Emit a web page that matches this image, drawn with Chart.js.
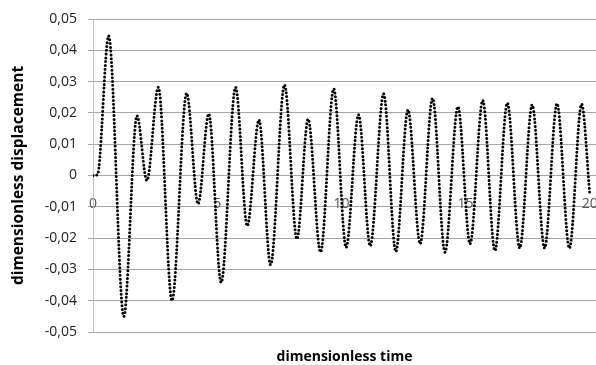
<!DOCTYPE html>
<html><head><meta charset="utf-8">
<script src="https://cdn.jsdelivr.net/npm/chart.js@4"></script>
<style>html,body{margin:0;padding:0;background:#fff}canvas{display:block}</style>
</head><body>
<canvas id="c" width="596" height="365"></canvas>
<script>
// extrema (time, displacement)
const times = [0, 0.18, 0.63, 1.24, 1.77, 2.17, 2.63, 3.18, 3.77, 4.23, 4.66, 5.16, 5.74, 6.21, 6.68, 7.15, 7.71, 8.21, 8.66, 9.16, 9.69, 10.19, 10.69, 11.16, 11.70, 12.19, 12.68, 13.17, 13.67, 14.17, 14.69, 15.18, 15.69, 16.18, 16.68, 17.18, 17.68, 18.18, 18.68, 19.18, 19.67, 20];
const displacement = [0, 0.0003, 0.0446, -0.045, 0.0191, -0.0016, 0.0282, -0.040, 0.0263, -0.0091, 0.0197, -0.0342, 0.0282, -0.0161, 0.0178, -0.0285, 0.029, -0.0203, 0.018, -0.0245, 0.0277, -0.023, 0.0194, -0.0225, 0.0261, -0.0243, 0.021, -0.0218, 0.0247, -0.0245, 0.022, -0.0218, 0.024, -0.024, 0.0232, -0.0232, 0.0226, -0.0232, 0.023, -0.0232, 0.0228, -0.006];
const xTicks = [0, 5, 10, 15, 20];
const yTicks = [-0.05, -0.04, -0.03, -0.02, -0.01, 0, 0.01, 0.02, 0.03, 0.04, 0.05];

const points = times.map((t, i) => ({x: t, y: displacement[i]}));
const fmtY = v => { const r = Math.round(v * 100) / 100; return r === 0 ? '0' : r.toFixed(2).replace('.', ','); };
const FONT = 'Open Sans';

new Chart(document.getElementById('c'), {
  type: 'line',
  data: {datasets: [{
    data: points,
    borderColor: '#000',
    borderWidth: 3,
    borderDash: [0, 3.8],
    borderCapStyle: 'round',
    pointRadius: 0,
    cubicInterpolationMode: 'monotone',
    fill: false
  }]},
  options: {
    responsive: false,
    animation: false,
    layout: {padding: {top: 19, right: 0, left: 0, bottom: 0}},
    plugins: {legend: {display: false}, tooltip: {enabled: false}},
    scales: {
      x: {
        type: 'linear', position: 'bottom', min: 0, max: 20.25,
        grid: {display: false}, border: {display: false},
        ticks: {display: false},
        title: {display: true, text: 'dimensionless time', color: '#000', padding: 0,
                font: {family: FONT, size: 14, weight: 'bold'}},
        afterFit: s => { s.height = 33; s.paddingLeft = 0; s.paddingRight = 0; }
      },
      x2: {
        type: 'linear', axis: 'x', position: {y: 0}, min: 0, max: 20.25,
        grid: {display: false, drawTicks: false}, border: {display: false},
        afterBuildTicks: s => { s.ticks = xTicks.map(v => ({value: v})); },
        ticks: {padding: 20, maxRotation: 0, autoSkip: false, color: '#555',
                font: {family: FONT, size: 14}},
        afterFit: s => { s.paddingLeft = 0; s.paddingRight = 0; }
      },
      y: {
        min: -0.05, max: 0.05,
        afterBuildTicks: s => { s.ticks = yTicks.map(v => ({value: v})); },
        grid: {color: '#a6a6a6', lineWidth: 1, tickLength: 5, drawTicks: true},
        border: {display: true, color: '#c0c0c0', width: 1},
        ticks: {padding: 11, color: '#222', font: {family: FONT, size: 14},
                callback: v => fmtY(v)},
        title: {display: true, text: 'dimensionless displacement', color: '#000',
                padding: {top: 9, bottom: 0}, font: {family: FONT, size: 15.5, weight: 'bold'}},
        afterFit: s => { s.width = 93; s.paddingTop = 0; s.paddingBottom = 0; }
      }
    }
  }
});
</script>
</body></html>
